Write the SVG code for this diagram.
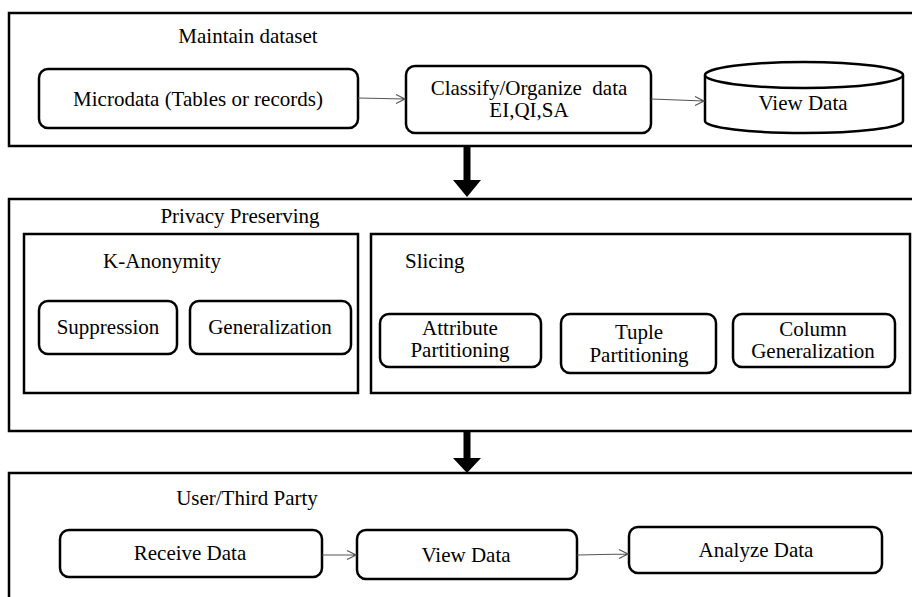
<svg xmlns="http://www.w3.org/2000/svg" width="912" height="597" viewBox="0 0 912 597">
<defs>
<style>
.frame{fill:#fff;stroke:#000;stroke-width:2.5}
.node{fill:#fff;stroke:#000;stroke-width:2.5}
.thin{fill:none;stroke:#555;stroke-width:1.2}
.big{fill:#000;stroke:none}
</style>
</defs>
<rect width="912" height="597" fill="#fff"/>
<g id="maintain-dataset">
<rect class="frame" x="9" y="13" width="910" height="133"/>
<text x="248" y="43" text-anchor="middle" font-family="Liberation Serif" font-size="21">Maintain dataset</text>
</g>
<g id="microdata">
<rect class="node" x="39" y="69" width="319" height="59" rx="9"/>
<text x="198" y="106" text-anchor="middle" font-family="Liberation Serif" font-size="21">Microdata (Tables or records)</text>
</g>
<g id="classify">
<rect class="node" x="406" y="66" width="245" height="67" rx="9"/>
<text x="529" y="95" text-anchor="middle" font-family="Liberation Serif" font-size="21">Classify/Organize&#160; data</text>
<text x="529" y="117" text-anchor="middle" font-family="Liberation Serif" font-size="21">EI,QI,SA</text>
</g>
<g id="view-data-store">
<path class="node" d="M705,75 V121 A99,12 0 0 0 903,121 V75"/>
<ellipse class="node" cx="804" cy="75" rx="99" ry="13"/>
<text x="803" y="110" text-anchor="middle" font-family="Liberation Serif" font-size="21">View Data</text>
</g>
<g id="privacy-preserving">
<rect class="frame" x="9" y="199" width="910" height="232"/>
<text x="240" y="223" text-anchor="middle" font-family="Liberation Serif" font-size="21">Privacy Preserving</text>
</g>
<g id="k-anonymity">
<rect class="frame" x="24" y="234" width="334" height="159"/>
<text x="162" y="268" text-anchor="middle" font-family="Liberation Serif" font-size="21">K-Anonymity</text>
</g>
<g id="suppression">
<rect class="node" x="39" y="301" width="138" height="53" rx="9"/>
<text x="108" y="334" text-anchor="middle" font-family="Liberation Serif" font-size="21">Suppression</text>
</g>
<g id="generalization">
<rect class="node" x="190" y="301" width="161" height="53" rx="9"/>
<text x="270" y="334" text-anchor="middle" font-family="Liberation Serif" font-size="21">Generalization</text>
</g>
<g id="slicing">
<rect class="frame" x="371" y="234" width="539" height="159"/>
<text x="405" y="268" font-family="Liberation Serif" font-size="21">Slicing</text>
</g>
<g id="attribute-partitioning">
<rect class="node" x="380" y="314" width="161" height="53" rx="9"/>
<text x="460" y="335" text-anchor="middle" font-family="Liberation Serif" font-size="21">Attribute</text>
<text x="460" y="357" text-anchor="middle" font-family="Liberation Serif" font-size="21">Partitioning</text>
</g>
<g id="tuple-partitioning">
<rect class="node" x="561" y="314" width="155" height="59" rx="9"/>
<text x="639" y="339" text-anchor="middle" font-family="Liberation Serif" font-size="21">Tuple</text>
<text x="639" y="362" text-anchor="middle" font-family="Liberation Serif" font-size="21">Partitioning</text>
</g>
<g id="column-generalization">
<rect class="node" x="733" y="314" width="162" height="53" rx="9"/>
<text x="813" y="336" text-anchor="middle" font-family="Liberation Serif" font-size="21">Column</text>
<text x="813" y="358" text-anchor="middle" font-family="Liberation Serif" font-size="21">Generalization</text>
</g>
<g id="user-third-party">
<rect class="frame" x="9" y="473" width="910" height="140"/>
<text x="247" y="505" text-anchor="middle" font-family="Liberation Serif" font-size="21">User/Third Party</text>
</g>
<g id="receive-data">
<rect class="node" x="60" y="530" width="262" height="47" rx="9"/>
<text x="190" y="560" text-anchor="middle" font-family="Liberation Serif" font-size="21">Receive Data</text>
</g>
<g id="view-data">
<rect class="node" x="357" y="530" width="220" height="49" rx="9"/>
<text x="466" y="562" text-anchor="middle" font-family="Liberation Serif" font-size="21">View Data</text>
</g>
<g id="analyze-data">
<rect class="node" x="629" y="527" width="253" height="46" rx="9"/>
<text x="756" y="557" text-anchor="middle" font-family="Liberation Serif" font-size="21">Analyze Data</text>
</g>
<g id="connectors">
<path class="thin" d="M358,98 L405,99 M396,94.5 L405,99 L396,103.5"/>
<path class="thin" d="M651,99 L704,101 M695,96.5 L704,101 L695,105.5"/>
<path class="thin" d="M322,555 L356,555 M347,550.5 L356,555 L347,559.5"/>
<path class="thin" d="M577,555 L628,554 M619,549.5 L628,554 L619,558.5"/>
<path class="big" d="M463.5,147 H470.5 V180 H481 L467,197 L453,180 H463.5 Z"/>
<path class="big" d="M463.5,432 H470.5 V458 H481 L467,473 L453,458 H463.5 Z"/>
</g>
</svg>
